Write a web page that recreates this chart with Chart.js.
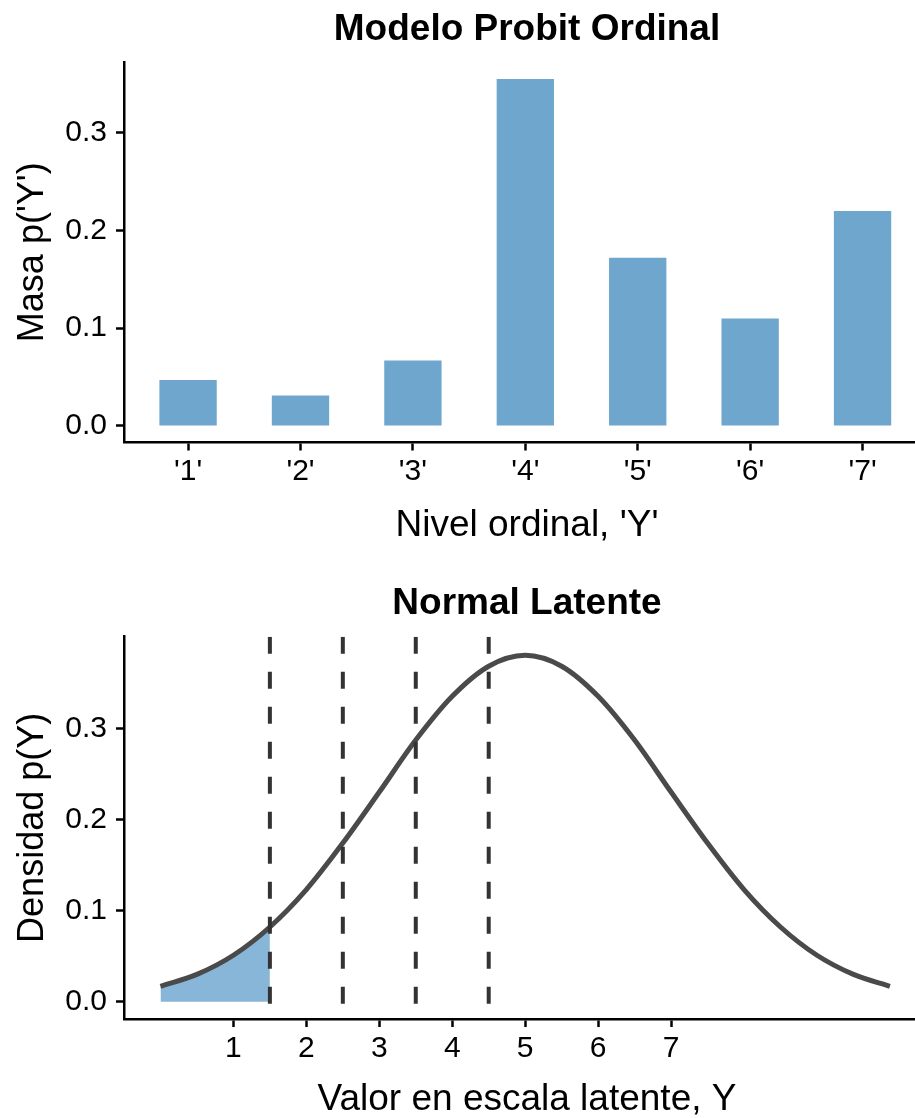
<!DOCTYPE html>
<html>
<head>
<meta charset="utf-8">
<script src="https://cdn.jsdelivr.net/npm/chart.js@4/dist/chart.umd.min.js"></script>
<style>
    html, body { margin: 0; padding: 0; background: #ffffff; overflow: hidden; }
    body { width: 915px; height: 1118px; position: relative; }
    canvas { position: absolute; left: 0; }
    #massChart { top: 0; }
    #densityChart { top: 560px; }
</style>
</head>
<body>
<canvas id="massChart" width="930" height="560"></canvas>
<canvas id="densityChart" width="930" height="558"></canvas>
<script>
// 上圖：各序位的機率質量
const barLevels = [1, 2, 3, 4, 5, 6, 7];
const barLabels = ["'1'", "'2'", "'3'", "'4'", "'5'", "'6'", "'7'"];
const barValues = [0.047, 0.031, 0.067, 0.355, 0.172, 0.110, 0.220];
const massTicks = [0, 0.1, 0.2, 0.3];

// 下圖：潛在常態分佈
const latentX = [0, 0.5, 1, 1.5, 2, 2.5, 3, 3.5, 4, 4.5, 5, 5.5, 6, 6.5, 7, 7.5, 8, 8.5, 9, 9.5, 10];
const latentDensity = [0.017, 0.030, 0.051, 0.082, 0.123, 0.174, 0.230, 0.287, 0.335, 0.368, 0.380,
                       0.368, 0.335, 0.287, 0.230, 0.174, 0.123, 0.082, 0.051, 0.030, 0.017];
const cutPoints = [1.5, 2.5, 3.5, 4.5];
const latentTicks = [1, 2, 3, 4, 5, 6, 7];
const densityTicks = [0, 0.1, 0.2, 0.3];

const FONT = "'Liberation Sans', Arial, Helvetica, sans-serif";
const massRange = { min: -0.017, max: 0.3724 };
const densRange = { min: -0.0189, max: 0.4004 };

// 共用的軸樣式
function axisGrid() {
    return {
        display: true,
        drawOnChartArea: false,
        drawTicks: true,
        tickLength: 8,
        tickWidth: 2.5,
        color: '#000000'
    };
}

function axisBorder() {
    return { display: true, color: '#000000', width: 2.5 };
}

// 標題放在頂端的空白軸上，才會以繪圖區置中
function titleAxis(range, text, padTop, height) {
    return {
        type: 'linear',
        position: 'top',
        min: range[0],
        max: range[1],
        afterFit: scale => { scale.height = height; },
        grid: { display: false },
        border: { display: false },
        ticks: { display: false },
        title: {
            display: true,
            text: text,
            color: '#000000',
            font: { family: FONT, size: 37, weight: 'bold', lineHeight: 1 },
            padding: { top: padTop, bottom: 0 }
        }
    };
}

function yAxis(range, ticks, label) {
    return {
        type: 'linear',
        min: range.min,
        max: range.max,
        afterBuildTicks: scale => { scale.ticks = ticks.map(v => ({ value: v })); },
        afterFit: scale => { scale.width = 124; },
        grid: axisGrid(),
        border: axisBorder(),
        ticks: {
            color: '#000000',
            padding: 9,
            font: { family: FONT, size: 30 },
            callback: v => v.toFixed(1)
        },
        title: {
            display: true,
            text: label,
            color: '#000000',
            font: { family: FONT, size: 36, lineHeight: 1 },
            padding: { top: 15.5, bottom: 0 }
        }
    };
}

// 質量長條圖
function renderMassChart() {
    const ctx = document.getElementById('massChart');
    new Chart(ctx, {
        type: 'bar',
        data: {
            datasets: [{
                data: barLevels.map((x, i) => ({ x: x, y: barValues[i] })),
                backgroundColor: '#6ea6cd',
                borderWidth: 0,
                barPercentage: 0.51,
                categoryPercentage: 1
            }]
        },
        options: {
            responsive: false,
            animation: false,
            devicePixelRatio: 1,
            layout: { padding: 0 },
            plugins: {
                legend: { display: false },
                tooltip: { enabled: false }
            },
            scales: {
                x: {
                    type: 'linear',
                    min: 0.43,
                    max: 7.6,
                    offset: false,
                    afterBuildTicks: scale => { scale.ticks = barLevels.map(v => ({ value: v })); },
                    afterFit: scale => { scale.height = 117.5; },
                    grid: Object.assign(axisGrid(), { offset: false }),
                    border: axisBorder(),
                    ticks: {
                        color: '#000000',
                        padding: 3,
                        maxRotation: 0,
                        font: { family: FONT, size: 30 },
                        callback: v => barLabels[barLevels.indexOf(v)]
                    },
                    title: {
                        display: true,
                        text: "Nivel ordinal, 'Y'",
                        color: '#000000',
                        font: { family: FONT, size: 37, lineHeight: 1 },
                        padding: { top: 0, bottom: 15.5 }
                    }
                },
                top: titleAxis([0.43, 7.6], 'Modelo Probit Ordinal', 11, 62),
                y: yAxis(massRange, massTicks, "Masa p('Y')")
            }
        }
    });
}

// 潛在密度曲線
function renderDensityChart() {
    const ctx = document.getElementById('densityChart');
    const curve = latentX.map((x, i) => ({ x: x, y: latentDensity[i] }));
    const shaded = curve.filter(p => p.x <= cutPoints[0]);

    const cutSets = cutPoints.map(c => ({
        data: [{ x: c, y: densRange.max }, { x: c, y: densRange.min }],
        borderColor: '#333333',
        borderWidth: 4,
        borderDash: [17, 18],
        borderCapStyle: 'butt',
        pointRadius: 0,
        tension: 0,
        fill: false,
        order: 0
    }));

    new Chart(ctx, {
        type: 'line',
        data: {
            datasets: [
                ...cutSets,
                {
                    data: curve,
                    borderColor: '#4a4a4a',
                    borderWidth: 5,
                    pointRadius: 0,
                    cubicInterpolationMode: 'monotone',
                    fill: false,
                    order: 1
                },
                {
                    data: shaded,
                    borderWidth: 0,
                    borderColor: 'rgba(0,0,0,0)',
                    backgroundColor: '#88b6d9',
                    pointRadius: 0,
                    cubicInterpolationMode: 'monotone',
                    fill: 'origin',
                    order: 2
                }
            ]
        },
        options: {
            responsive: false,
            animation: false,
            devicePixelRatio: 1,
            layout: { padding: 0 },
            plugins: {
                legend: { display: false },
                tooltip: { enabled: false }
            },
            scales: {
                x: {
                    type: 'linear',
                    min: -0.5,
                    max: 10.55,
                    afterBuildTicks: scale => { scale.ticks = latentTicks.map(v => ({ value: v })); },
                    afterFit: scale => { scale.height = 99; },
                    grid: axisGrid(),
                    border: axisBorder(),
                    ticks: {
                        color: '#000000',
                        padding: 4,
                        maxRotation: 0,
                        font: { family: FONT, size: 30 },
                        callback: v => String(v)
                    },
                    title: {
                        display: true,
                        text: 'Valor en escala latente, Y',
                        color: '#000000',
                        font: { family: FONT, size: 37, lineHeight: 1 },
                        padding: { top: 0, bottom: 0 }
                    }
                },
                top: titleAxis([-0.5, 10.55], 'Normal Latente', 25.5, 76.7),
                y: yAxis(densRange, densityTicks, 'Densidad p(Y)')
            }
        }
    });
}

renderMassChart();
renderDensityChart();
</script>
</body>
</html>
